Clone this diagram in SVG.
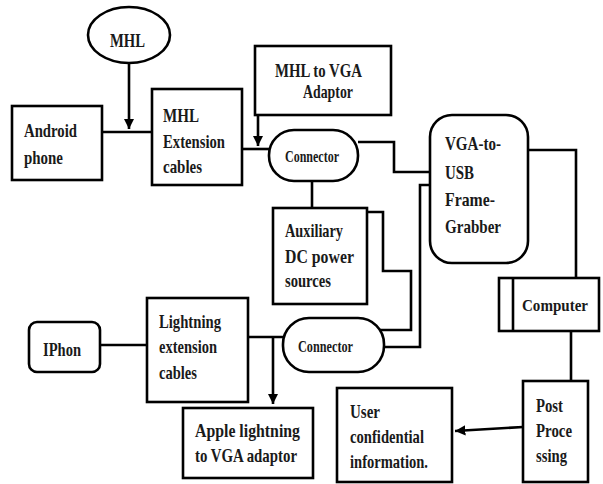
<svg xmlns="http://www.w3.org/2000/svg" width="603" height="484" viewBox="0 0 603 484">
<defs>
<marker id="ah" viewBox="0 0 10 10" refX="10" refY="5" markerWidth="4" markerHeight="4" orient="auto" markerUnits="strokeWidth"><path d="M0,0 L10,5 L0,10 z" fill="#000"/></marker>
<style>
.b{fill:#fff;stroke:#000;stroke-width:2.6}
.t{font-family:"Liberation Serif","Times New Roman",serif;font-weight:bold;font-size:19px;fill:#1a1a1a}
.s{font-size:16px}
.c{fill:none;stroke:#000;stroke-width:2.6}
</style>
</defs>
<rect width="603" height="484" fill="#fff"/>
<g id="connectors">
<path class="c" d="M129,63 V129" marker-end="url(#ah)"/>
<path class="c" d="M102,132 H152"/>
<path class="c" d="M242,149 H270"/>
<path class="c" d="M258,115 V146" marker-end="url(#ah)"/>
<path class="c" d="M358,142 H394 V172 H431"/>
<path class="c" d="M312,181 V208"/>
<path class="c" d="M367,212 H383 V271 H411 V330 H378"/>
<path class="c" d="M431,185 H420 V347 H383"/>
<path class="c" d="M528,150 H576 V278"/>
<path class="c" d="M571,331 V381"/>
<path class="c" d="M523,427 L455,431" marker-end="url(#ah)"/>
<path class="c" d="M100,345 H147"/>
<path class="c" d="M248,337 H284"/>
<path class="c" d="M273,337 V404" marker-end="url(#ah)"/>
</g>
<g id="mhl"><ellipse class="b" cx="129" cy="35" rx="41" ry="28"/><text class="t" x="110" y="47" textLength="35" lengthAdjust="spacingAndGlyphs">MHL</text></g>
<g id="android"><rect class="b" x="12" y="106" width="90" height="74"/><text class="t" x="24" y="137" textLength="53" lengthAdjust="spacingAndGlyphs">Android</text><text class="t" x="24" y="164" textLength="39" lengthAdjust="spacingAndGlyphs">phone</text></g>
<g id="mhl-ext"><rect class="b" x="152" y="89" width="90" height="96"/><text class="t" x="163" y="122" textLength="36" lengthAdjust="spacingAndGlyphs">MHL</text><text class="t" x="163" y="148" textLength="62" lengthAdjust="spacingAndGlyphs">Extension</text><text class="t" x="163" y="173" textLength="39" lengthAdjust="spacingAndGlyphs">cables</text></g>
<g id="mhl-vga"><rect class="b" x="255" y="46" width="136" height="69"/><text class="t" x="275" y="77" textLength="87" lengthAdjust="spacingAndGlyphs">MHL to VGA</text><text class="t" x="303" y="98" textLength="50" lengthAdjust="spacingAndGlyphs">Adaptor</text></g>
<g id="connector1"><rect class="b" x="269" y="130" width="89" height="51" rx="25"/><text class="t s" x="285" y="162" textLength="54" lengthAdjust="spacingAndGlyphs">Connector</text></g>
<g id="vga-usb"><rect class="b" x="430" y="115" width="98" height="148" rx="22"/><text class="t" x="445" y="150" textLength="56" lengthAdjust="spacingAndGlyphs">VGA-to-</text><text class="t" x="445" y="179" textLength="29" lengthAdjust="spacingAndGlyphs">USB</text><text class="t" x="445" y="206" textLength="50" lengthAdjust="spacingAndGlyphs">Frame-</text><text class="t" x="445" y="233" textLength="56" lengthAdjust="spacingAndGlyphs">Grabber</text></g>
<g id="aux"><rect class="b" x="273" y="208" width="94" height="96"/><text class="t" x="285" y="237" textLength="58" lengthAdjust="spacingAndGlyphs">Auxiliary</text><text class="t" x="285" y="263" textLength="69" lengthAdjust="spacingAndGlyphs">DC  power</text><text class="t" x="285" y="287" textLength="46" lengthAdjust="spacingAndGlyphs">sources</text></g>
<g id="computer"><rect class="b" x="499" y="278" width="100" height="53"/><path class="c" d="M513,278 V331"/><text class="t" x="522" y="311" font-size="16" style="font-size:16px" textLength="66" lengthAdjust="spacingAndGlyphs">Computer</text></g>
<g id="post"><rect class="b" x="523" y="381" width="65" height="101"/><text class="t" x="536" y="412" textLength="27" lengthAdjust="spacingAndGlyphs">Post</text><text class="t" x="536" y="437" textLength="36" lengthAdjust="spacingAndGlyphs">Proce</text><text class="t" x="536" y="462" textLength="31" lengthAdjust="spacingAndGlyphs">ssing</text></g>
<g id="user"><rect class="b" x="337" y="388" width="115" height="94"/><text class="t" x="350" y="418" textLength="30" lengthAdjust="spacingAndGlyphs">User</text><text class="t" x="350" y="443" textLength="74" lengthAdjust="spacingAndGlyphs">confidential</text><text class="t" x="350" y="468" textLength="78" lengthAdjust="spacingAndGlyphs">information.</text></g>
<g id="connector2"><rect class="b" x="283" y="318" width="101" height="54" rx="26"/><text class="t s" x="298" y="352" textLength="55" lengthAdjust="spacingAndGlyphs">Connector</text></g>
<g id="iphon"><rect class="b" x="29" y="322" width="71" height="50" rx="8"/><text class="t" x="43" y="356" textLength="38" lengthAdjust="spacingAndGlyphs">IPhon</text></g>
<g id="lightning"><rect class="b" x="147" y="298" width="101" height="104"/><text class="t" x="159" y="328" textLength="62" lengthAdjust="spacingAndGlyphs">Lightning</text><text class="t" x="159" y="353" textLength="58" lengthAdjust="spacingAndGlyphs">extension</text><text class="t" x="159" y="379" textLength="38" lengthAdjust="spacingAndGlyphs">cables</text></g>
<g id="apple"><rect class="b" x="183" y="408" width="130" height="70"/><text class="t" x="195" y="437" textLength="105" lengthAdjust="spacingAndGlyphs">Apple  lightning</text><text class="t" x="195" y="462" textLength="102" lengthAdjust="spacingAndGlyphs">to VGA adaptor</text></g>
</svg>
